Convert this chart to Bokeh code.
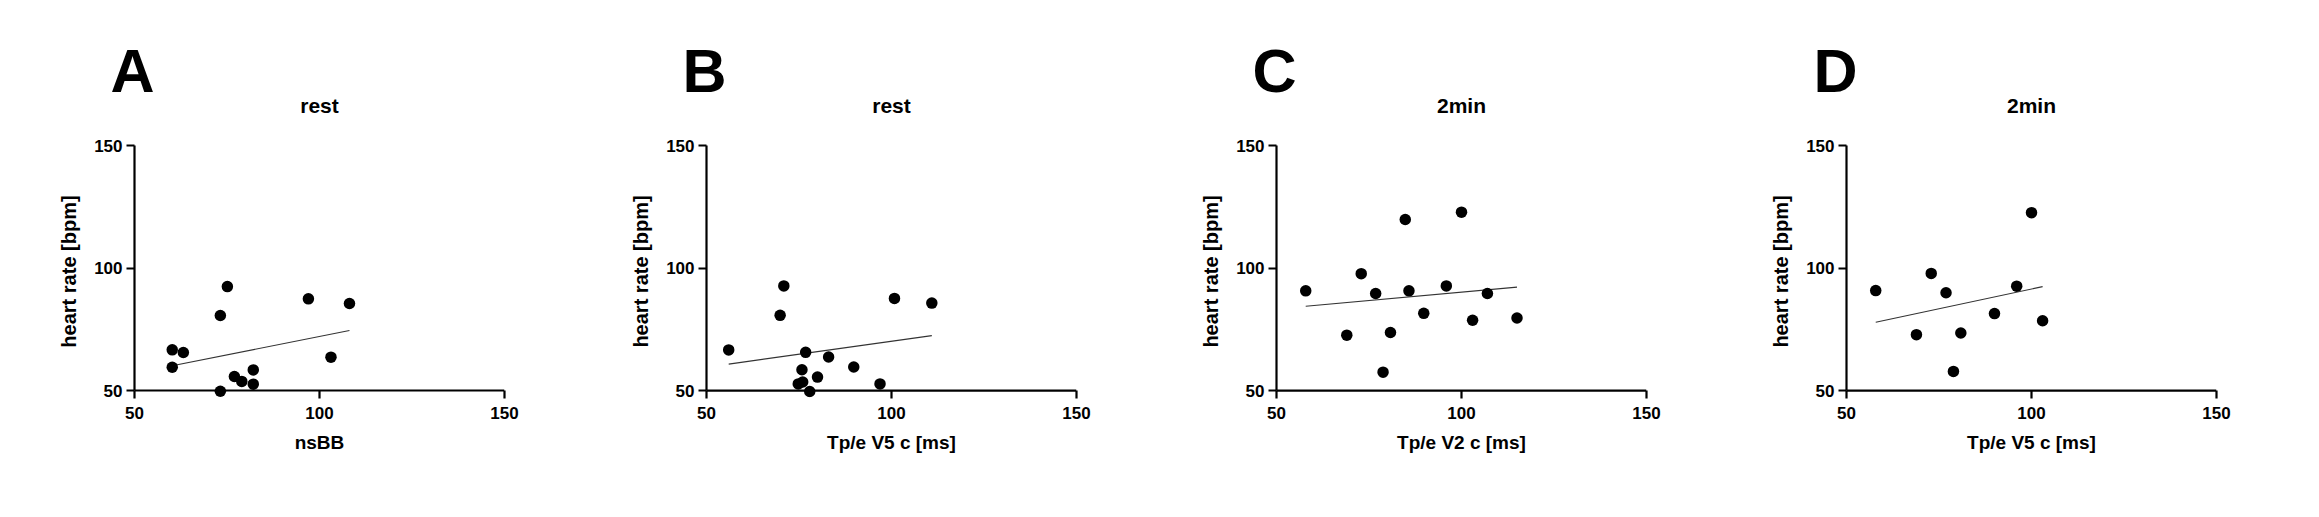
from bokeh.plotting import figure
from bokeh.models import Range1d, FixedTicker, Title, Span
from bokeh.layouts import row
from bokeh.embed import file_html
from bokeh.resources import INLINE

# ---------------- data ----------------
letters = ["A", "B", "C", "D"]
titles = ["rest", "rest", "2min", "2min"]
x_labels = ["nsBB", "Tp/e V5 c [ms]", "Tp/e V2 c [ms]", "Tp/e V5 c [ms]"]
y_label = "heart rate [bpm]"
tick_values = [50, 100, 150]

a_x = [60.2, 60.2, 63.2, 73.2, 75.1, 73.2, 77.0, 79.0, 82.1, 82.1, 97.0, 103.1, 108.1]
a_y = [66.6, 59.5, 65.5, 80.6, 92.4, 49.7, 55.7, 53.7, 58.4, 52.6, 87.4, 63.6, 85.5]
a_fit_x = [60.2, 108.1]
a_fit_y = [60.1, 74.5]

b_x = [56.0, 69.9, 70.9, 76.8, 75.8, 74.8, 76.0, 77.9, 80.0, 83.0, 89.8, 96.9, 100.8, 110.9]
b_y = [66.6, 80.7, 92.7, 65.6, 58.5, 52.7, 53.5, 49.6, 55.5, 63.7, 59.6, 52.7, 87.6, 85.7]
b_fit_x = [56.0, 110.9]
b_fit_y = [60.8, 72.4]

c_x = [57.9, 69.0, 72.9, 76.8, 78.8, 80.8, 84.8, 85.8, 89.8, 95.9, 100.0, 103.0, 107.0, 115.0]
c_y = [90.7, 72.6, 97.7, 89.6, 57.5, 73.7, 119.8, 90.7, 81.5, 92.7, 122.8, 78.7, 89.6, 79.6]
c_fit_x = [57.9, 115.0]
c_fit_y = [84.4, 92.2]

d_x = [57.9, 68.9, 72.9, 76.9, 78.9, 80.9, 90.0, 96.0, 100.0, 103.0]
d_y = [90.8, 72.8, 97.8, 89.9, 57.8, 73.5, 81.4, 92.6, 122.6, 78.5]
d_fit_x = [57.9, 103.0]
d_fit_y = [77.9, 92.4]

xs = [a_x, b_x, c_x, d_x]
ys = [a_y, b_y, c_y, d_y]
fit_xs = [a_fit_x, b_fit_x, c_fit_x, d_fit_x]
fit_ys = [a_fit_y, b_fit_y, c_fit_y, d_fit_y]

# ---------------- layout ----------------
FONT = "Liberation Sans"
H = 517
W = [580, 580, 580, 579]
LEFT = [134, 126, 116, 106]
FW = 370
TOP = [145, 143, 143, 143]
AXIS_Y = 390          # pixel row of the x axis (value 50)
PAD = 7               # extra frame below the x axis so dots on it are not clipped
LETTER_DX = [-19, -19, -19, -28]
TITLE_STANDOFF = 57
LETTER_STANDOFF = -82

figs = []
for i in range(4):
    top = TOP[i]
    ppu_y = (AXIS_Y - top) / 100.0
    y0 = 50 - PAD / ppu_y
    p = figure(width=W[i], height=H,
               x_range=Range1d(50, 150), y_range=Range1d(y0, 150),
               output_backend="svg", toolbar_location=None,
               min_border_left=LEFT[i], min_border_right=W[i] - LEFT[i] - FW,
               min_border_top=top, min_border_bottom=H - AXIS_Y - PAD,
               outline_line_color=None, background_fill_color="white",
               border_fill_color="white")
    p.grid.visible = False

    p.line(fit_xs[i], fit_ys[i], line_color="#333333", line_width=1.1)

    for ax in (p.xaxis[0], p.yaxis[0]):
        ax.ticker = FixedTicker(ticks=tick_values)
        ax.axis_line_width = 2.2
        ax.axis_line_color = "black"
        ax.major_tick_line_width = 2.2
        ax.major_tick_line_color = "black"
        ax.minor_tick_line_color = None
        ax.major_label_text_font = FONT
        ax.major_label_text_font_size = "17px"
        ax.major_label_text_font_style = "bold"
        ax.major_label_text_color = "black"
        ax.axis_label_text_font = FONT
        ax.axis_label_text_font_style = "bold"
        ax.axis_label_text_color = "black"

    # x axis: line drawn at value 50 by a span, ticks reach up to it
    p.xaxis.axis_line_color = None
    p.xaxis.major_tick_in = PAD
    p.xaxis.major_tick_out = 8 - PAD
    p.xaxis.axis_label = x_labels[i]
    p.xaxis.axis_label_text_font_size = "19px"
    p.xaxis.major_label_standoff = 8
    p.xaxis.axis_label_standoff = 10
    p.add_layout(Span(location=50, dimension="width",
                      line_color="black", line_width=2.2))

    p.yaxis.bounds = (50, 150)
    p.yaxis.major_tick_in = 0
    p.yaxis.major_tick_out = 8
    p.yaxis.axis_label = y_label
    p.yaxis.axis_label_text_font_size = "20px"
    p.yaxis.major_label_standoff = 4
    p.yaxis.axis_label_standoff = 11

    p.scatter(xs[i], ys[i], marker="circle", size=11.5,
              fill_color="black", line_color="black", line_width=0)

    # panel letter (outer title)
    p.title.text = letters[i]
    p.title.align = "left"
    p.title.offset = LETTER_DX[i] - 5
    p.title.text_font = FONT
    p.title.text_font_size = "61px"
    p.title.text_font_style = "bold"
    p.title.text_color = "black"
    p.title.standoff = LETTER_STANDOFF

    # panel title (closest to the frame)
    p.add_layout(Title(text=titles[i], align="center",
                       text_font=FONT, text_font_size="21px",
                       text_font_style="bold", text_color="black",
                       standoff=TITLE_STANDOFF), "above")
    figs.append(p)

layout = row(*figs, spacing=0)
open("out.html", "w").write(file_html(layout, INLINE))
